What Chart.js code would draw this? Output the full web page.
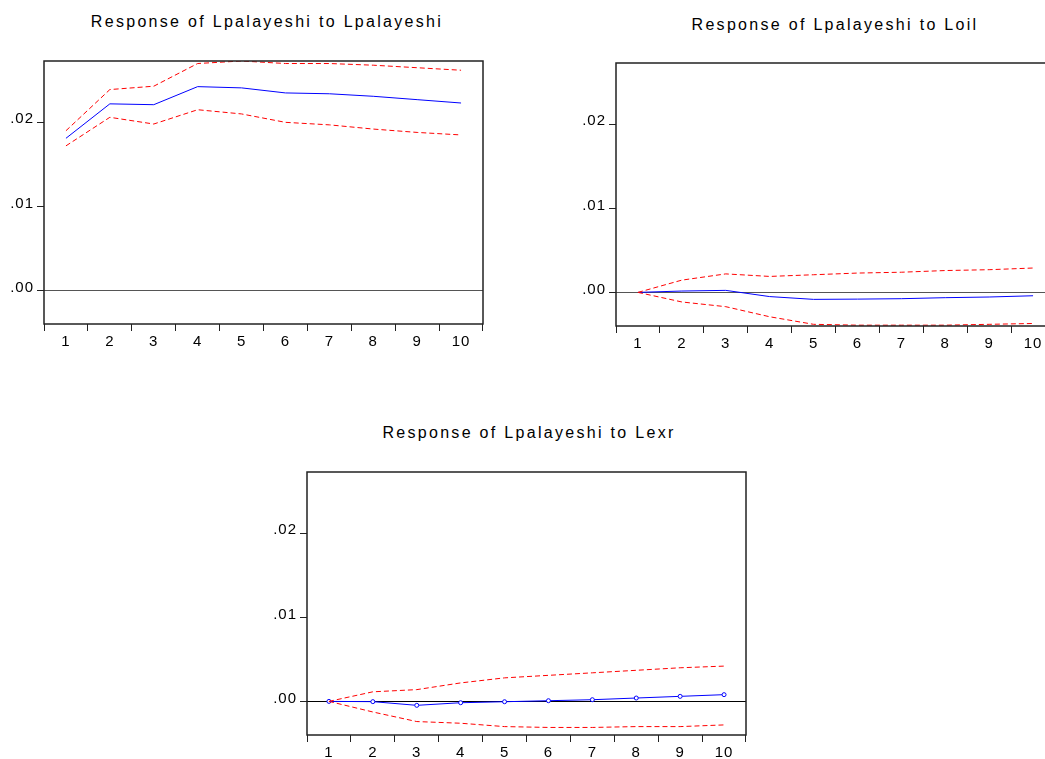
<!DOCTYPE html>
<html>
<head>
<meta charset="utf-8">
<script src="https://cdn.jsdelivr.net/npm/chart.js@4/dist/chart.umd.min.js"></script>
<style>
  html, body { margin: 0; padding: 0; background: #fff; overflow: hidden; }
  body { width: 1045px; height: 759px; position: relative; }
  canvas { position: absolute; }
  .title {
    position: absolute; width: 600px; text-align: center;
    font-family: "Liberation Sans", Arial, sans-serif; font-size: 16px;
    letter-spacing: 2.3px; line-height: 18px; color: #000;
  }
</style>
</head>
<body>
<div class="title" id="t1" style="left:-33px; top:13px;">Response of Lpalayeshi to Lpalayeshi</div>
<canvas id="c1" width="500" height="360" style="left:0; top:0;"></canvas>

<div class="title" id="t2" style="left:535px; top:16px;">Response of Lpalayeshi to Loil</div>
<canvas id="c2" width="500" height="360" style="left:572px; top:2px;"></canvas>

<div class="title" id="t3" style="left:229px; top:424px;">Response of Lpalayeshi to Lexr</div>
<canvas id="c3" width="500" height="360" style="left:263px; top:411px;"></canvas>

<script>
// periods on the x axis
const periods = ["1", "2", "3", "4", "5", "6", "7", "8", "9", "10"];

// Response of Lpalayeshi to Lpalayeshi
const ownResp  = [0.0181, 0.0222, 0.0221, 0.02425, 0.0241, 0.0235, 0.0234, 0.0231, 0.0227, 0.0223];
const ownUpper = [0.0190, 0.0239, 0.0243, 0.0270, 0.0273, 0.0270, 0.0270, 0.0268, 0.0265, 0.0262];
const ownLower = [0.0172, 0.0206, 0.0198, 0.0215, 0.0210, 0.0200, 0.0197, 0.0192, 0.0188, 0.0185];

// Response of Lpalayeshi to Loil
const oilResp  = [0, 0.00016, 0.00024, -0.0005, -0.00083, -0.0008, -0.00075, -0.00063, -0.00055, -0.0004];
const oilUpper = [0, 0.00146, 0.0022, 0.0019, 0.0021, 0.0023, 0.0024, 0.0026, 0.0027, 0.0029];
const oilLower = [0, -0.00114, -0.0017, -0.0029, -0.0038, -0.0039, -0.0039, -0.0039, -0.0038, -0.0037];

// Response of Lpalayeshi to Lexr
const exrResp  = [0, -0.00003, -0.00047, -0.00016, -0.00004, 0.00008, 0.0002, 0.0004, 0.0006, 0.0008];
const exrUpper = [0, 0.00114, 0.0014, 0.0022, 0.0028, 0.0031, 0.0034, 0.0037, 0.0040, 0.0042];
const exrLower = [0, -0.00126, -0.0024, -0.0026, -0.0030, -0.0031, -0.0031, -0.0030, -0.0030, -0.0028];

const yMin = -0.0040;
const yMax = 0.0273;

// box round the plot area, plus the slightly spread-out lettering of the original
const framePlugin = {
  id: "frame",
  beforeDraw(chart) {
    chart.ctx.letterSpacing = "1px";
  },
  afterDatasetsDraw(chart) {
    const { ctx, chartArea: a } = chart;
    ctx.save();
    ctx.strokeStyle = "#222";
    ctx.lineWidth = 1.5;
    ctx.strokeRect(a.left, a.top, a.right - a.left, a.bottom - a.top);
    ctx.restore();
  },
};

const tickFont = { family: "'Liberation Sans', Arial, sans-serif", size: 15 };

function makeChart(id, resp, upper, lower, zeroColor, markers) {
  const band = (data) => ({
    data: data,
    borderColor: "#ff0000",
    borderWidth: 1,
    borderDash: [5, 3],
    pointRadius: 0,
    tension: 0,
  });
  new Chart(document.getElementById(id).getContext("2d"), {
    type: "line",
    data: {
      labels: periods,
      datasets: [
        band(upper),
        band(lower),
        {
          data: resp,
          borderColor: "#0000ff",
          borderWidth: 1,
          pointRadius: markers ? 2 : 0,
          pointBorderWidth: 1,
          pointBorderColor: "#0000ff",
          pointBackgroundColor: "#ffffff",
          tension: 0,
        },
      ],
    },
    options: {
      responsive: false,
      animation: false,
      layout: { padding: { top: 61, left: 0, right: 17, bottom: 6 } },
      plugins: { legend: { display: false }, tooltip: { enabled: false } },
      scales: {
        x: {
          offset: true,
          border: { display: false },
          grid: { offset: true, drawOnChartArea: false, tickLength: 7, tickColor: "#222" },
          ticks: { color: "#000", font: tickFont, padding: 2, maxRotation: 0 },
          afterFit: (scale) => { scale.height = 30; },
        },
        y: {
          min: yMin,
          max: yMax,
          border: { display: false },
          grid: {
            color: (c) => (c.tick && c.tick.value === 0 ? zeroColor : "rgba(0,0,0,0)"),
            tickColor: "#222",
            tickLength: 7,
          },
          ticks: {
            stepSize: 0.01,
            includeBounds: false,
            color: "#000",
            font: tickFont,
            padding: 3,
            labelOffset: -3,
            callback: (v) => v.toFixed(2).replace(/^0/, ""),
          },
          afterFit: (scale) => { scale.width = 44; },
        },
      },
    },
    plugins: [framePlugin],
  });
}

makeChart("c1", ownResp, ownUpper, ownLower, "#555555", false);
makeChart("c2", oilResp, oilUpper, oilLower, "#555555", false);
makeChart("c3", exrResp, exrUpper, exrLower, "#000000", true);
</script>
</body>
</html>
